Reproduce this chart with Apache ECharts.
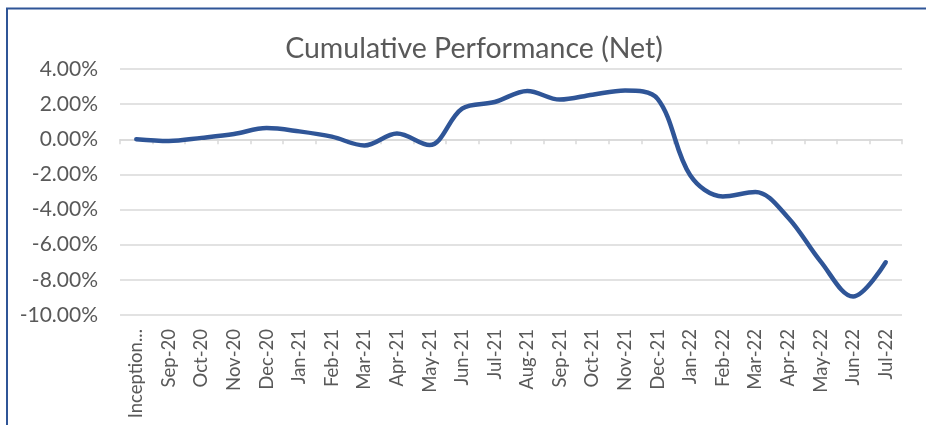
<!DOCTYPE html>
<html>
<head>
<meta charset="utf-8">
<style>
  html, body { margin: 0; padding: 0; background: #ffffff; }
  #chart { width: 926px; height: 425px; }
</style>
<script src="https://cdn.jsdelivr.net/npm/echarts@6/dist/echarts.min.js"></script>
</head>
<body>
<div id="chart"></div>
<script>
const titleText = "Cumulative Performance (Net)";
const categories = ["Inception...", "Sep-20", "Oct-20", "Nov-20", "Dec-20", "Jan-21", "Feb-21", "Mar-21", "Apr-21", "May-21", "Jun-21", "Jul-21", "Aug-21", "Sep-21", "Oct-21", "Nov-21", "Dec-21", "Jan-22", "Feb-22", "Mar-22", "Apr-22", "May-22", "Jun-22", "Jul-22"];
const performance = [0.00, -0.10, 0.08, 0.30, 0.64, 0.45, 0.15, -0.35, 0.33, -0.33, 1.74, 2.12, 2.75, 2.26, 2.54, 2.78, 2.30, -2.05, -3.25, -3.00, -4.45, -6.95, -8.95, -7.00];
const yMin = -10, yMax = 4, yStep = 2;

const chart = echarts.init(document.getElementById('chart'), null, { renderer: 'canvas' });
const fontFam = 'Lato, "Open Sans", sans-serif';
chart.setOption({
  animation: false,
  backgroundColor: '#ffffff',
  title: {
    text: titleText,
    left: 469, top: 29, textAlign: 'center',
    textStyle: { fontFamily: fontFam, fontSize: 28.5, fontWeight: 'normal', color: '#595959' }
  },
  graphic: [{
    type: 'rect', silent: true,
    shape: { x: 7, y: 8.5, width: 1000, height: 500 },
    style: { fill: 'none', stroke: '#2F5597', lineWidth: 2 }
  }],
  grid: { left: 120, right: 24, top: 69, bottom: 110 },
  xAxis: [{
    type: 'category', data: categories, boundaryGap: true,
    position: 'bottom',
    axisLine: { show: false, onZero: false },
    axisTick: { show: false },
    axisLabel: { rotate: 90, margin: 14, fontFamily: fontFam, fontSize: 18.5, color: '#595959', interval: 0 }
  }, {
    type: 'category', data: categories, boundaryGap: true,
    position: 'bottom',
    axisLine: { show: true, onZero: true, lineStyle: { color: '#d9d9d9', width: 1.5 } },
    axisTick: { show: true, length: 5, alignWithLabel: false, interval: 0, lineStyle: { color: '#d9d9d9', width: 1.5 } },
    axisLabel: { show: false }
  }],
  yAxis: {
    type: 'value', min: yMin, max: yMax, interval: yStep,
    axisLine: { show: false }, axisTick: { show: false },
    splitLine: { lineStyle: { color: '#d9d9d9', width: 1.5 } },
    axisLabel: {
      margin: 22, fontFamily: fontFam, fontSize: 21, color: '#595959',
      formatter: v => v.toFixed(2) + '%'
    }
  },
  series: [{
    type: 'line', xAxisIndex: 0, data: performance,
    smooth: 0.35, symbol: 'none',
    lineStyle: { color: '#2F5597', width: 4.5, cap: 'round' }
  }]
});
</script>
</body>
</html>
